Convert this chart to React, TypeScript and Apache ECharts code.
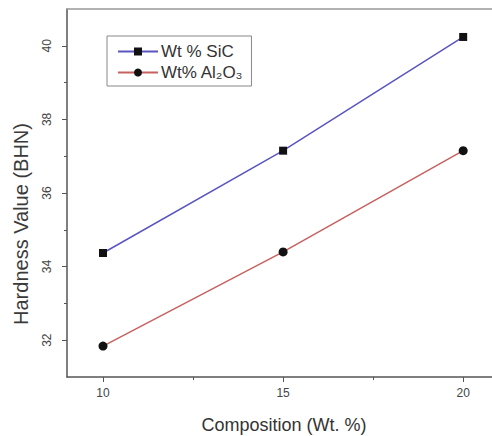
import React, { useEffect, useRef } from "react";
import * as echarts from "echarts";

const compositions = [10, 15, 20];
const sicHardness = [34.37, 37.15, 40.24];
const al2o3Hardness = [31.84, 34.4, 37.15];
const xMajorTicks = [10, 15, 20];
const xMinorTicks = [12.5, 17.5];
const yMajorTicks = [32, 34, 36, 38, 40];
const yMinorTicks = [33, 35, 37, 39];
const seriesNames = ["Wt % SiC", "Wt% Al\u2082O\u2083"];
const xTitle = "Composition (Wt. %)";
const yTitle = "Hardness Value (BHN)";

export default function App() {
  const ref = useRef<HTMLDivElement>(null);
  useEffect(() => {
    if (!ref.current) return;
    const chart = echarts.init(ref.current, undefined, { renderer: "svg" });
    const font = "Liberation Sans, Arial, sans-serif";
    const axisColor = "#555";
    const xBase = { type: "value", min: 9, max: 20.8, splitLine: { show: false } };
    const yBase = { type: "value", min: 31, max: 41, splitLine: { show: false } };
    chart.setOption({
      animation: false,
      backgroundColor: "#fff",
      grid: { left: 67, right: 0, top: 9, bottom: 59, containLabel: false, outerBoundsMode: "none" },
      legend: {
        left: 107,
        top: 36,
        orient: "vertical",
        backgroundColor: "#fff",
        borderColor: "#888",
        borderWidth: 1,
        padding: [7, 8, 5, 10],
        itemGap: 4,
        itemWidth: 40,
        itemHeight: 10,
        textStyle: { fontFamily: font, fontSize: 17, color: "#333", padding: [0, 0, 0, -2] },
        data: seriesNames,
      },
      graphic: [
        {
          type: "text",
          x: 284,
          y: 425,
          style: { text: xTitle, fontFamily: font, fontSize: 18, fill: "#333", textAlign: "center", textVerticalAlign: "middle" },
        },
        {
          type: "text",
          x: 21,
          y: 224,
          rotation: Math.PI / 2,
          style: { text: yTitle, fontFamily: font, fontSize: 20, fill: "#3a3a3a", textAlign: "center", textVerticalAlign: "middle" },
        },
      ],
      xAxis: [
        {
          ...xBase,
          position: "bottom",
          axisLine: { show: true, lineStyle: { color: axisColor, width: 1.5 } },
          axisTick: { show: true, customValues: xMajorTicks, length: 5, lineStyle: { color: axisColor } },
          axisLabel: { show: true, customValues: xMajorTicks, color: "#444", fontFamily: font, fontSize: 12, margin: 10 },
        },
        {
          ...xBase,
          position: "bottom",
          axisLine: { show: false },
          axisTick: { show: true, customValues: xMinorTicks, length: 3, lineStyle: { color: axisColor } },
          axisLabel: { show: false },
        },
        {
          ...xBase,
          position: "top",
          axisLine: { show: true, lineStyle: { color: "#999", width: 1.5 } },
          axisTick: { show: false },
          axisLabel: { show: false },
        },
      ],
      yAxis: [
        {
          ...yBase,
          position: "left",
          axisLine: { show: true, lineStyle: { color: axisColor, width: 1.5 } },
          axisTick: { show: true, customValues: yMajorTicks, length: 5, lineStyle: { color: axisColor } },
          axisLabel: { show: true, customValues: yMajorTicks, rotate: 90, color: "#444", fontFamily: font, fontSize: 12, margin: 14 },
        },
        {
          ...yBase,
          position: "left",
          axisLine: { show: false },
          axisTick: { show: true, customValues: yMinorTicks, length: 3, lineStyle: { color: axisColor } },
          axisLabel: { show: false },
        },
      ],
      series: [
        {
          name: seriesNames[0],
          type: "line",
          xAxisIndex: 0,
          yAxisIndex: 0,
          data: compositions.map((c, i) => [c, sicHardness[i]]),
          symbol: "rect",
          symbolSize: 8,
          itemStyle: { color: "#111" },
          lineStyle: { color: "#5a55c0", width: 1.5 },
        },
        {
          name: seriesNames[1],
          type: "line",
          xAxisIndex: 0,
          yAxisIndex: 0,
          data: compositions.map((c, i) => [c, al2o3Hardness[i]]),
          symbol: "circle",
          symbolSize: 9,
          itemStyle: { color: "#111" },
          lineStyle: { color: "#c86060", width: 1.5 },
        },
      ],
    });
    return () => chart.dispose();
  }, []);
  return <div ref={ref} style={{ width: 492, height: 436, position: "absolute", left: 0, top: 0 }} />;
}
